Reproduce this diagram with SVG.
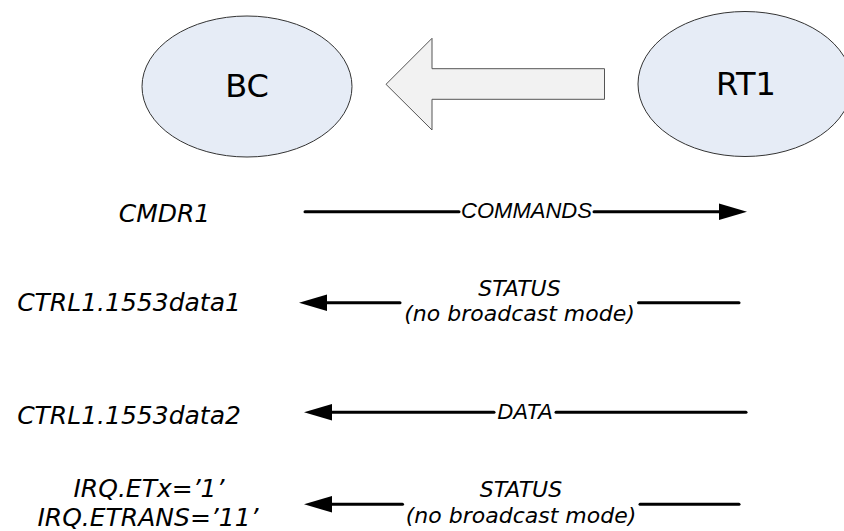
<svg xmlns="http://www.w3.org/2000/svg" width="844" height="531" viewBox="0 0 844 531">
<style>
.node{fill:#e6ecf6;stroke:#333;stroke-width:1}
.ntxt{font-family:"DejaVu Sans",Verdana,sans-serif;font-size:32px;fill:#000;text-anchor:middle}
.lbl{font-family:"DejaVu Sans",Verdana,sans-serif;font-style:italic;font-size:25px;fill:#000;text-anchor:middle}
.st{font-family:"DejaVu Sans",Verdana,sans-serif;font-style:italic;font-size:22px;fill:#000;text-anchor:middle}
.ar{font-family:"Liberation Sans",Arial,sans-serif;font-style:italic;font-size:22px;fill:#000;text-anchor:middle}
.ln{stroke:#000;stroke-width:3;fill:none;stroke-linecap:round}
.hd{fill:#000}
</style>
<rect width="844" height="531" fill="#fff"/>
<g id="BC">
<ellipse class="node" cx="247" cy="86.5" rx="105" ry="70.5"/>
<text class="ntxt" x="247" y="97">BC</text>
</g>
<g id="RT1">
<ellipse class="node" cx="745" cy="84" rx="107" ry="72.5"/>
<text class="ntxt" x="746" y="94.5">RT1</text>
</g>
<g id="bigArrow">
<polygon points="386,84.3 432,38.3 432,68.7 604.5,68.7 604.5,99.3 432,99.3 432,130" fill="#f2f2f2" stroke="#555" stroke-width="1"/>
</g>
<g id="labels">
<text class="lbl" x="164.5" y="221.5">CMDR1</text>
<text class="lbl" x="129" y="311">CTRL1.1553data1</text>
<text class="lbl" x="129" y="424">CTRL1.1553data2</text>
<text class="lbl" x="149" y="497">IRQ.ETx=’1’</text>
<text class="lbl" x="148" y="526">IRQ.ETRANS=’11’</text>
</g>
<g id="connectors">
<g id="cmd">
<line class="ln" x1="305" y1="211.7" x2="459" y2="211.7"/>
<line class="ln" x1="594" y1="211.7" x2="722" y2="211.7"/>
<polygon class="hd" points="747,211.7 719,203.5 719,219.9"/>
<text class="ar" x="526.5" y="218">COMMANDS</text>
</g>
<g id="status1">
<polygon class="hd" points="299,302.7 327,294.5 327,310.9"/>
<line class="ln" x1="325" y1="302.7" x2="400" y2="302.7"/>
<line class="ln" x1="638.5" y1="302.7" x2="739" y2="302.7"/>
<text class="st" x="519.5" y="295.5">STATUS</text>
<text class="st" x="519.5" y="320.5">(no broadcast mode)</text>
</g>
<g id="data">
<polygon class="hd" points="304,412.3 332,404.1 332,420.5"/>
<line class="ln" x1="330" y1="412.3" x2="494" y2="412.3"/>
<line class="ln" x1="556" y1="412.3" x2="746" y2="412.3"/>
<text class="ar" x="525" y="419">DATA</text>
</g>
<g id="status2">
<polygon class="hd" points="304,504.3 332,496.1 332,512.5"/>
<line class="ln" x1="330" y1="504.3" x2="402.5" y2="504.3"/>
<line class="ln" x1="640" y1="504.3" x2="739" y2="504.3"/>
<text class="st" x="521" y="497.3">STATUS</text>
<text class="st" x="521" y="523">(no broadcast mode)</text>
</g>
</g>
</svg>
